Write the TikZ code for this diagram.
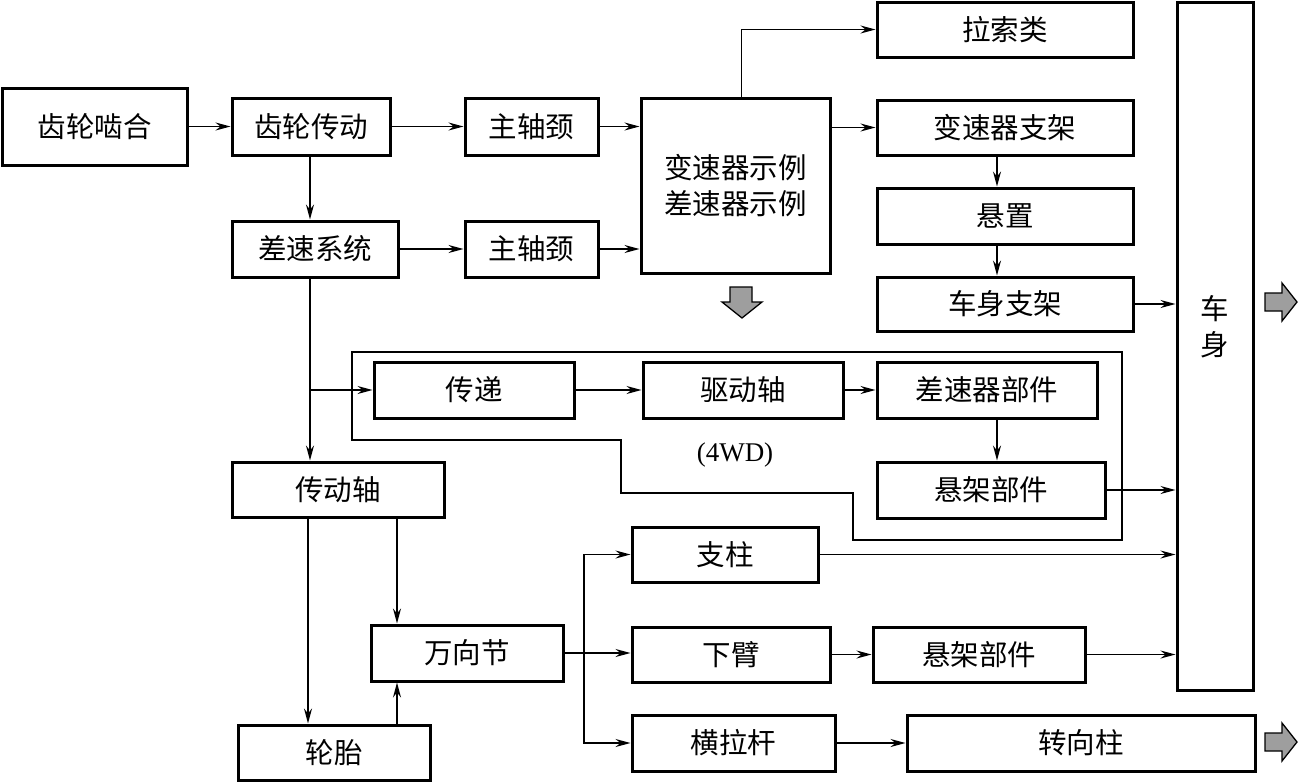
\documentclass[tikz,border=0pt]{standalone}
\usepackage{fontspec}
\setmainfont{Liberation Serif}
\newfontfamily\cjk{Noto Sans CJK SC}
\usetikzlibrary{arrows.meta,calc}
\begin{document}
\begin{tikzpicture}[x=1pt,y=-1pt,
  box/.style={draw, line width=3pt, inner sep=0pt, font=\cjk\fontsize{28.5}{36}\selectfont, align=center},
  arr/.style={line width=1.5pt, -{Stealth[length=15pt,width=8pt,inset=5pt]}},
  frame/.style={line width=1.4pt},
  garrow/.style={draw, line width=1.3pt, fill=black!38}]
\useasboundingbox (0,0) rectangle (1298,782);
\node[box, minimum width=185pt, minimum height=77pt] (gm) at (94.5,126.5) {齿轮啮合};
\node[box, minimum width=158pt, minimum height=57pt] (gc) at (311,126.5) {齿轮传动};
\node[box, minimum width=133pt, minimum height=57pt] (zj1) at (531.5,126.5) {主轴颈};
\node[box, minimum width=189pt, minimum height=175pt] (bs) at (735.5,185.5) {变速器示例\\差速器示例};
\node[box, minimum width=256pt, minimum height=55pt] (ls) at (1005,29.5) {拉索类};
\node[box, minimum width=256pt, minimum height=55pt] (bz) at (1005,127.5) {变速器支架};
\node[box, minimum width=256pt, minimum height=56pt] (xz) at (1005,216) {悬置};
\node[box, minimum width=256pt, minimum height=54pt] (cz) at (1005,304) {车身支架};
\node[box, minimum width=76pt, minimum height=688pt] (cs) at (1215,346) {};
\node[font=\cjk\fontsize{28.5}{36}\selectfont, align=center, inner sep=0pt, anchor=north] (cst) at (1215,295) {车\\身};
\node[box, minimum width=166pt, minimum height=56pt] (cx) at (315,249) {差速系统};
\node[box, minimum width=133pt, minimum height=56pt] (zj2) at (531.5,249) {主轴颈};
\node[box, minimum width=200pt, minimum height=56pt] (cd) at (474,390) {传递};
\node[box, minimum width=200pt, minimum height=56pt] (qd) at (743,390) {驱动轴};
\node[box, minimum width=220pt, minimum height=56pt] (cb) at (987,390) {差速器部件};
\node[box, minimum width=228pt, minimum height=56pt] (xj1) at (991,490) {悬架部件};
\node[box, minimum width=212pt, minimum height=55pt] (cdz) at (338,489.5) {传动轴};
\node[box, minimum width=186pt, minimum height=55pt] (zz) at (725,554.5) {支柱};
\node[box, minimum width=192pt, minimum height=56pt] (wx) at (467,653) {万向节};
\node[box, minimum width=198pt, minimum height=55pt] (xb) at (731,654.5) {下臂};
\node[box, minimum width=212pt, minimum height=55pt] (xj2) at (979,654.5) {悬架部件};
\node[box, minimum width=192pt, minimum height=55pt] (lt) at (334,752.5) {轮胎};
\node[box, minimum width=203pt, minimum height=56pt] (hl) at (733.5,743) {横拉杆};
\node[box, minimum width=348pt, minimum height=56pt] (zx) at (1081,743) {转向柱};
\node[font=\fontsize{27}{30}\selectfont, inner sep=0pt] (wd) at (735,455) {(4WD)};
% frame of the 4WD group
\draw[frame] (352,352) -- (1122,352) -- (1122,540) -- (853,540) -- (853,493) -- (621,493) -- (621,440) -- (352,440) -- cycle;
% connectors
\draw[arr] (gm.east) -- (gc.west);
\draw[arr] (gc.east) -- (zj1.west);
\draw[arr] (zj1.east) -- (zj1.east -| bs.west);
\draw[arr] (cx.east) -- (zj2.west);
\draw[arr] (zj2.east) -- (zj2.east -| bs.west);
\draw[arr] ([xshift=6pt]bs.north) |- (ls.west);
\draw[arr] (bs.east |- bz.west) -- (bz.west);
\draw[arr] ([xshift=-8pt]bz.south) -- ([xshift=-8pt]xz.north);
\draw[arr] ([xshift=-8pt]xz.south) -- ([xshift=-8pt]cz.north);
\draw[arr] (cz.east) -- (cz.east -| cs.west);
\draw[arr] ([xshift=-1pt]gc.south) -- ([xshift=-1pt]gc.south |- cx.north);
\coordinate (vx) at ([xshift=-1pt]gc.south);
\draw[arr] (vx |- cx.south) -- (vx |- cdz.north);
\draw[arr] (vx |- cd.west) -- (cd.west);
\draw[arr] (cd.east) -- (qd.west);
\draw[arr] (qd.east) -- (cb.west);
\draw[arr] ([xshift=10pt]cb.south) -- ([xshift=10pt]cb.south |- xj1.north);
\draw[arr] (xj1.east) -- (xj1.east -| cs.west);
\draw[arr] ([xshift=-30pt]cdz.south) -- ([xshift=-30pt]cdz.south |- lt.north);
\draw[arr] ([xshift=59pt]cdz.south) -- ([xshift=59pt]cdz.south |- wx.north);
\draw[arr] ([xshift=59pt]cdz.south |- lt.north) -- ([xshift=59pt]cdz.south |- wx.south);
\draw[arr] (wx.east) -- (wx.east -| xb.west);
\coordinate (br) at (584,653);
\draw[arr] (br) |- (zz.west);
\draw[arr] (br) |- (hl.west);
\draw[arr] (xb.east |- xj2.west) -- (xj2.west);
\draw[arr] (xj2.east) -- (xj2.east -| cs.west);
\draw[arr] (zz.east) -- (zz.east -| cs.west);
\draw[arr] (hl.east) -- (zx.west);
% grey block arrows
\draw[garrow] (730,287) -- (752,287) -- (752,302) -- (762,302) -- (742,318) -- (722,302) -- (730,302) -- cycle;
\draw[garrow] (1265,293) -- (1282,293) -- (1282,283) -- (1297,302) -- (1282,321) -- (1282,311) -- (1265,311) -- cycle;
\draw[garrow] (1265,733) -- (1282,733) -- (1282,723) -- (1297,742) -- (1282,761) -- (1282,751) -- (1265,751) -- cycle;
\end{tikzpicture}
\end{document}
